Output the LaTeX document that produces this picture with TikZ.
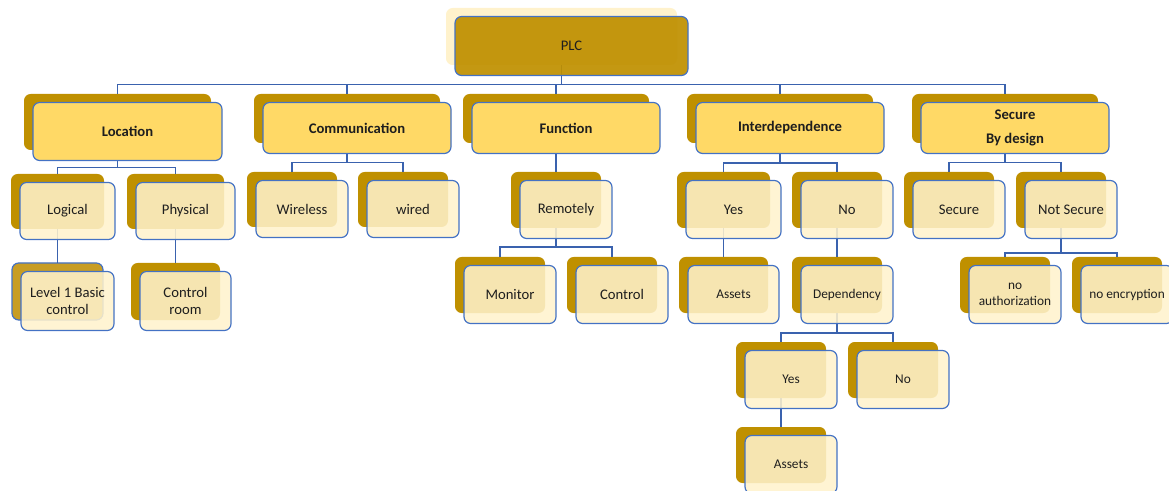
\documentclass[tikz,border=0pt]{standalone}
\usepackage{fontspec}
\setmainfont{Carlito}
\usetikzlibrary{calc}

\definecolor{gold}{HTML}{BF9000}
\definecolor{goldlight}{HTML}{C89D24}
\definecolor{cream}{HTML}{FFF2CC}
\definecolor{sun}{HTML}{FFD966}
\definecolor{edge}{HTML}{4472C4}
\definecolor{wire}{HTML}{3A62AE}
\definecolor{ink}{HTML}{1E1E1E}

\pgfdeclarelayer{backl}
\pgfdeclarelayer{connl}
\pgfsetlayers{backl,connl,main}

\tikzset{
  backbox/.style={draw=none, fill=gold, rounded corners=5pt, inner sep=0pt, outer sep=0pt},
  backcream/.style={backbox, fill=cream},
  backrim/.style={backbox, fill=goldlight, draw=edge, line width=0.9pt},
  frontbase/.style={draw=edge, line width=0.9pt, rounded corners=5pt, inner sep=0pt,
    outer sep=0pt, align=center, text=ink},
  toptitle/.style={frontbase, fill=gold, fill opacity=0.93, text opacity=1,
    font=\fontsize{11}{13}\selectfont},
  category/.style={frontbase, fill=sun, font=\bfseries\fontsize{11}{18}\selectfont},
  leaf/.style={frontbase, fill=cream, fill opacity=0.87, text opacity=1,
    font=\fontsize{11}{12.75}\selectfont},
  smallleaf/.style={leaf, font=\fontsize{10}{12}\selectfont},
  conn/.style={draw=wire, line width=1.1pt},
}

% #1 name, #2 centre of the back plate, #3 width, #4 height (px),
% #5 back style, #6 front style, #7 label
\newcommand{\platebox}[7]{%
  \begin{pgfonlayer}{backl}
    \node[#5, minimum width=#3*0.75pt, minimum height=#4*0.75pt] (#1) at #2 {};
  \end{pgfonlayer}
  \node[#6, minimum width=(#3+2)*0.75pt, minimum height=(#4+2)*0.75pt] (#1-f)
    at ($#2+(10,9.5)$) {#7};
}

\begin{document}
\begin{tikzpicture}[x=0.75pt, y=-0.75pt]
\useasboundingbox (0,0) rectangle (1169,491);

% root
\platebox{plc}{(561.5,36.5)}{231}{57}{backcream}{toptitle}{PLC}

% categories
\platebox{loc}{(117.5,122)}{187}{56}{backbox}{category}{Location}
\platebox{com}{(347,118.5)}{186}{49}{backbox}{category}{Communication}
\platebox{fun}{(556,118.5)}{186}{49}{backbox}{category}{Function}
\platebox{int}{(780,118.5)}{186}{49}{backbox}{category}{Interdependence}
\platebox{sec}{(1005,118.5)}{186}{49}{backbox}{category}{Secure\\By design}

% second level
\platebox{log}{(57.5,201.5)}{93}{55}{backbox}{leaf}{Logical}
\platebox{phy}{(175.5,201.5)}{97}{55}{backbox}{leaf}{Physical}
\platebox{wls}{(292,199.5)}{90}{55}{backbox}{leaf}{Wireless}
\platebox{wrd}{(403,199.5)}{90}{55}{backbox}{leaf}{wired}
\platebox{rem}{(556,200)}{90}{56}{backbox}{leaf}{Remotely}
\platebox{iy}{(723.5,200)}{93}{56}{backbox}{leaf}{Yes}
\platebox{ino}{(837,200)}{90}{56}{backbox}{leaf}{No}
\platebox{ssec}{(949,200)}{90}{56}{backbox}{leaf}{Secure}
\platebox{nsec}{(1061,200)}{90}{56}{backbox}{leaf}{Not Secure}

% third level
\platebox{lvl}{(57.5,291.5)}{91}{57}{backrim}{leaf}{Level 1 Basic\\control}
\platebox{crm}{(175.5,291.5)}{89}{57}{backbox}{leaf}{Control\\room}
\platebox{mon}{(500,285)}{90}{56}{backbox}{leaf}{Monitor}
\platebox{ctl}{(612,285)}{90}{56}{backbox}{leaf}{Control}
\platebox{ast}{(723.5,285)}{89}{56}{backbox}{smallleaf}{Assets}
\platebox{dep}{(837,285)}{90}{56}{backbox}{smallleaf}{Dependency}
\platebox{nau}{(1005,285)}{90}{56}{backbox}{smallleaf}{no\\authorization}
\platebox{nen}{(1117,285)}{90}{56}{backbox}{smallleaf}{no encryption}

% fourth and fifth level
\platebox{dy}{(781,370)}{90}{56}{backbox}{smallleaf}{Yes}
\platebox{dn}{(893,370)}{90}{56}{backbox}{smallleaf}{No}
\platebox{da}{(781,455)}{90}{56}{backbox}{smallleaf}{Assets}

% connectors
\begin{pgfonlayer}{connl}
  \coordinate (bplc) at (561.5,84.5);
  \draw[conn] (plc.south) -- (bplc) -| (loc.north);
  \draw[conn] (bplc) -| (com.north);
  \draw[conn] (bplc) -| (fun.north);
  \draw[conn] (bplc) -| (int.north);
  \draw[conn] (bplc) -| (sec.north);

  \coordinate (bloc) at (117.5,167.5);
  \draw[conn] (loc.south) -- (bloc) -| (log.north);
  \draw[conn] (bloc) -| (phy.north);
  \draw[conn] (log.south) -- (lvl.north);
  \draw[conn] (phy.south) -- (crm.north);

  \coordinate (bcom) at (347,162.5);
  \draw[conn] (com.south) -- (bcom) -| (wls.north);
  \draw[conn] (bcom) -| (wrd.north);

  \draw[conn] (fun.south) -- (rem.north);
  \coordinate (brem) at (556,247);
  \draw[conn] (rem.south) -- (brem) -| (mon.north);
  \draw[conn] (brem) -| (ctl.north);

  \coordinate (bint) at (780,163);
  \draw[conn] (int.south) -- (bint) -| (iy.north);
  \draw[conn] (bint) -| (ino.north);
  \draw[conn] (iy.south) -- (ast.north);
  \draw[conn] (ino.south) -- (dep.north);
  \coordinate (bdep) at (837,333);
  \draw[conn] (dep.south) -- (bdep) -| (dy.north);
  \draw[conn] (bdep) -| (dn.north);
  \draw[conn] (dy.south) -- (da.north);

  \coordinate (bsec) at (1005,162.5);
  \draw[conn] (sec.south) -- (bsec) -| (ssec.north);
  \draw[conn] (bsec) -| (nsec.north);
  \coordinate (bnsec) at (1061,253);
  \draw[conn] (nsec.south) -- (bnsec) -| (nau.north);
  \draw[conn] (bnsec) -| (nen.north);
\end{pgfonlayer}
\end{tikzpicture}
\end{document}
